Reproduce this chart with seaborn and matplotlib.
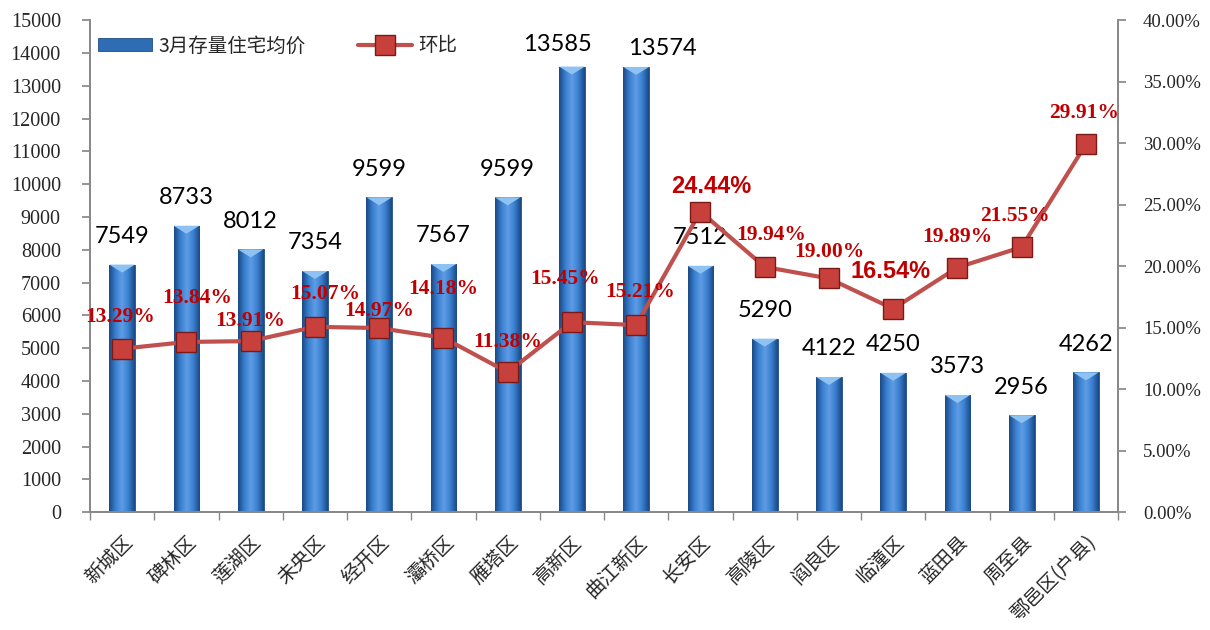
import matplotlib
matplotlib.use("Agg")
import matplotlib.pyplot as plt
import seaborn as sns
import numpy as np
from matplotlib.colors import LinearSegmentedColormap
from matplotlib.ticker import FuncFormatter, MultipleLocator

# data
districts = ['新城区', '碑林区', '莲湖区', '未央区', '经开区', '灞桥区', '雁塔区', '高新区',
             '曲江新区', '长安区', '高陵区', '阎良区', '临潼区', '蓝田县', '周至县', '鄠邑区(户县)']
prices = [7549, 8733, 8012, 7354, 9599, 7567, 9599, 13585, 13574, 7512, 5290, 4122, 4250, 3573, 2956, 4262]
mom = [13.29, 13.84, 13.91, 15.07, 14.97, 14.18, 11.38, 15.45, 15.21, 24.44, 19.94, 19.00, 16.54, 19.89, 21.55, 29.91]
bold_sans = [9, 12]  # labels drawn bigger in a sans face
# label offsets in pixels (dx, dy) relative to each marker / bar top
label_off = [(-2, 32), (11, 44), (0, 20), (10, 33), (0, 17), (0, 49), (0, 30), (-7, 43),
             (4, 33), (11, 25), (7, 32), (0, 26), (-3, 37), (0, 31), (-7, 31), (-2, 31)]
price_off = {7: (-15, 22), 8: (26, 18)}

sns.set_theme(style='white')
plt.rcParams['font.family'] = ['Liberation Serif', 'Noto Sans CJK SC', 'DejaVu Sans']

fig, ax = plt.subplots(figsize=(12.1, 6.3), dpi=100)
fig.subplots_adjust(left=0.0744, right=0.924, top=0.968, bottom=0.187)

sns.barplot(x=districts, y=prices, ax=ax, width=0.4, color='#2E6DB4', saturation=1,
            edgecolor='#1F4E85', linewidth=0.6, label='3月存量住宅均价')
if ax.legend_ is not None:
    ax.legend_.remove()

ax.set_xlim(-0.5, 15.5)
ax.set_ylim(0, 15000)

# gradient shading for the bars plus a light cap at the top
cmap = LinearSegmentedColormap.from_list('bar', ['#1B4A85', '#3A7FD0', '#5E9DE4', '#3A7FD0', '#1B4A85'])
grad = np.linspace(0, 1, 64).reshape(1, -1)
px_h = fig.get_figheight() * fig.dpi * (0.968 - 0.187)
cap_h = 8 * 15000 / px_h
for p in ax.patches:
    x0, w, h = p.get_x(), p.get_width(), p.get_height()
    im = ax.imshow(grad, extent=(x0, x0 + w, 0, h), aspect='auto', cmap=cmap, zorder=p.get_zorder() + 0.1)
    im.set_clip_path(p)
    ax.fill([x0, x0 + w, x0 + w / 2], [h, h, h - cap_h], color='#8EC2F2', zorder=p.get_zorder() + 0.2, lw=0)

for i, v in enumerate(prices):
    dx, dy = price_off.get(i, (0, 28))
    ax.annotate(str(v), (i, v), xytext=(dx, dy), textcoords='offset pixels', ha='center', va='center',
                fontsize=17, family=['Lato', 'DejaVu Sans'], color='black')

ax.yaxis.set_major_locator(MultipleLocator(1000))
ax.tick_params(axis='y', labelsize=14.5, length=6, direction='out', left=True, color='#888888', pad=15)
ax.set_xticks(range(16))
ax.set_xticklabels(districts, rotation=45, ha='right', rotation_mode='anchor',
                   fontsize=14, family=['Noto Sans CJK SC', 'DejaVu Sans'])
ax.tick_params(axis='x', length=0, pad=14)
ax.set_xticks(np.arange(-0.5, 16, 1), minor=True)
ax.tick_params(axis='x', which='minor', length=6, bottom=True, direction='out', color='#888888')
ax.set_xlabel('')
ax.set_ylabel('')
for s in ['left', 'bottom', 'right']:
    ax.spines[s].set_color('#888888')
ax.spines['top'].set_visible(False)

ax2 = ax.twinx()
sns.lineplot(x=np.arange(16), y=mom, ax=ax2, color='#C0504D', linewidth=3, marker='s',
             markersize=14, markerfacecolor='#C8403C', markeredgecolor='#7A1A18', markeredgewidth=1,
             label='环比', legend=False)
ax2.set_ylim(0, 40)
ax2.yaxis.set_major_locator(MultipleLocator(5))
ax2.yaxis.set_major_formatter(FuncFormatter(lambda v, _: f'{v:.2f}%'))
ax2.tick_params(axis='y', labelsize=13.5, length=6, direction='out', right=True, color='#888888', pad=12)
ax2.set_ylabel('')
for s in ['left', 'bottom', 'right']:
    ax2.spines[s].set_color('#888888')
ax2.spines['top'].set_visible(False)

for i, v in enumerate(mom):
    dx, dy = label_off[i]
    if i in bold_sans:
        ax2.annotate(f'{v:.2f}%', (i, v), xytext=(dx, dy), textcoords='offset pixels', ha='center',
                     va='center', fontsize=17, fontweight='bold', color='#C00000',
                     family=['Liberation Sans', 'DejaVu Sans'])
    else:
        ax2.annotate(f'{v:.2f}%', (i, v), xytext=(dx, dy), textcoords='offset pixels', ha='center',
                     va='center', fontsize=15.5, fontweight='bold', color='#C00000',
                     family=['Liberation Serif', 'DejaVu Serif'])

h1, l1 = ax.get_legend_handles_labels()
h2, l2 = ax2.get_legend_handles_labels()
ax2.legend(h1 + h2, l1 + l2, loc='upper left', bbox_to_anchor=(0.0, 0.985), ncol=2, frameon=False,
           prop={'family': ['Noto Sans CJK SC', 'DejaVu Sans'], 'size': 14}, handlelength=2.8,
           handletextpad=0.3, columnspacing=2.7, borderaxespad=0.0)

fig.savefig('out.png', dpi=100)
